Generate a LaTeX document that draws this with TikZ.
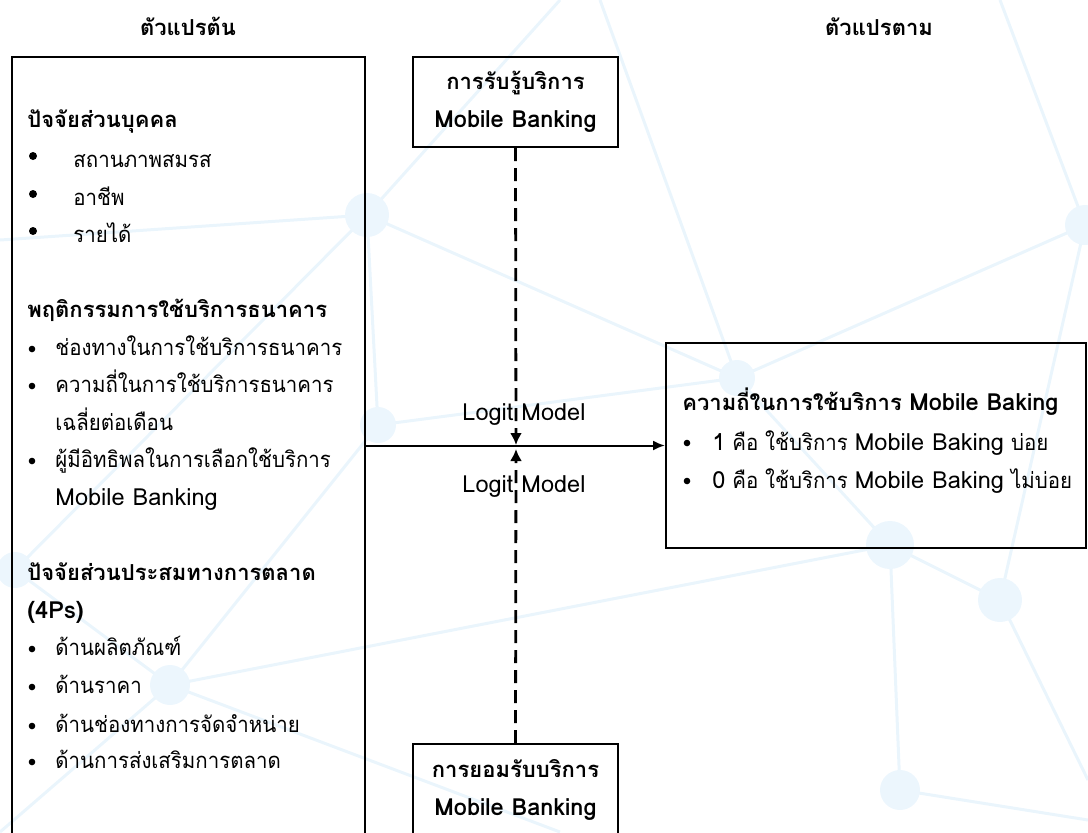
\documentclass[tikz,border=0pt]{standalone}
\usepackage{fontspec}
\setmainfont[Script=Thai,FakeStretch=0.93,BoldFeatures={FakeStretch=1}]{Loma}
\newfontfamily\latinfont[Scale=1.07]{Loma}
\newcommand\eng[1]{{\latinfont #1}}
\usepackage{xcolor}
\usetikzlibrary{arrows.meta,positioning}
\definecolor{netline}{RGB}{234,245,252}
\definecolor{netdot}{RGB}{236,246,253}
\tikzset{
  box/.style={draw,line width=1pt,inner sep=0pt},
  head/.style={anchor=base west,inner sep=0pt,font=\fontsize{11}{18.75}\selectfont\bfseries},
  item/.style={anchor=base west,inner sep=0pt},
  dot/.style={circle,fill,inner sep=0pt,minimum size=3.3pt},
  bigdot/.style={circle,fill,inner sep=0pt,minimum size=4pt},
  net/.style={netline,line width=1.5pt},
  netnode/.style={fill=netdot}
}
\begin{document}
\begin{tikzpicture}[x=0.5pt,y=-0.5pt,every node/.style={font=\fontsize{11}{18.75}\selectfont}]
\useasboundingbox (0,0) rectangle (1088,832);
% faint network in the background
\draw[net] (0,240) -- (367,215) -- (560,0);
\draw[net] (15,570) -- (170,685) -- (378,425) -- (367,215) -- (737,378) -- (1085,225) -- (1000,600) -- (890,545) -- (737,378) -- (378,425);
\draw[net] (170,685) -- (890,545) -- (900,790) -- (1088,820);
\draw[net] (0,832) -- (170,685) -- (560,832);
\draw[net] (1000,600) -- (1088,780);
\draw[net] (737,378) -- (600,0);
\draw[net] (1085,225) -- (1000,0);
\draw[net] (15,570) -- (367,215);
\fill[netnode] (170,685) circle (10pt);
\fill[netnode] (367,215) circle (11pt);
\fill[netnode] (378,425) circle (9pt);
\fill[netnode] (737,378) circle (9pt);
\fill[netnode] (890,545) circle (12pt);
\fill[netnode] (1000,600) circle (11pt);
\fill[netnode] (1085,225) circle (10pt);
\fill[netnode] (15,570) circle (9pt);
\fill[netnode] (900,790) circle (10pt);

% column titles
\node[font=\fontsize{11}{18.75}\selectfont\bfseries,anchor=base] (indeptitle) at (188,35) {ตัวแปรต้น};
\node[font=\fontsize{11}{18.75}\selectfont\bfseries,anchor=base] (deptitle) at (879,35) {ตัวแปรตาม};

% boxes
\node[box,minimum width=176.5pt,minimum height=425pt] (indep) at (188.5,482) {};
\node[box,minimum width=210pt,minimum height=102.5pt] (dep) at (876,445.5) {};
\node[box,minimum width=102.5pt,minimum height=45pt,align=center,font=\fontsize{11}{18.75}\selectfont\bfseries] (perc) at (515.5,102) {การรับรู้บริการ\\\eng{Mobile Banking}};
\node[box,minimum width=102.5pt,minimum height=46pt,align=center,font=\fontsize{11}{18.75}\selectfont\bfseries] (accept) at (515.5,790) {การยอมรับบริการ\\\eng{Mobile Banking}};

% left box text
\node[head] (pers) at (27,127) {ปัจจัยส่วนบุคคล};
\node[bigdot] (b1) at (33,156) {};
\node[item] (marital) at (73,167) {สถานภาพสมรส};
\node[bigdot] (b2) at (33,194) {};
\node[item] (job) at (73,205) {อาชีพ};
\node[bigdot] (b3) at (33,231) {};
\node[item] (income) at (73,242) {รายได้};

\node[head] (behav) at (27,317) {พฤติกรรมการใช้บริการธนาคาร};
\node[dot] (b4) at (32,349) {};
\node[item] (channel) at (55,355) {ช่องทางในการใช้บริการธนาคาร};
\node[dot] (b5) at (32,386) {};
\node[item] (freq) at (55,392) {ความถี่ในการใช้บริการธนาคาร};
\node[item] (freqb) at (55,430) {เฉลี่ยต่อเดือน};
\node[dot] (b6) at (32,461) {};
\node[item] (infl) at (55,467) {ผู้มีอิทธิพลในการเลือกใช้บริการ};
\node[item] (inflb) at (55,505) {\eng{Mobile Banking}};

\node[head] (mix) at (27,580) {ปัจจัยส่วนประสมทางการตลาด};
\node[head] (mixb) at (27,618) {\eng{(4Ps)}};
\node[dot] (b7) at (32,649) {};
\node[item] (prod) at (55,655) {ด้านผลิตภัณฑ์};
\node[dot] (b8) at (32,687) {};
\node[item] (price) at (55,693) {ด้านราคา};
\node[dot] (b9) at (32,726) {};
\node[item] (place) at (55,732) {ด้านช่องทางการจัดจำหน่าย};
\node[dot] (b10) at (32,762) {};
\node[item] (promo) at (55,768) {ด้านการส่งเสริมการตลาด};

% right box text
\node[head] (usage) at (682,410) {ความถี่ในการใช้บริการ \eng{Mobile Baking}};
\node[dot] (b11) at (687,443) {};
\node[item] (often) at (712,450) {\eng{1} คือ ใช้บริการ \eng{Mobile Baking} บ่อย};
\node[dot] (b12) at (687,481) {};
\node[item] (seldom) at (712,488) {\eng{0} คือ ใช้บริการ \eng{Mobile Baking} ไม่บ่อย};

% connectors
\coordinate (hitA) at (516,445);
\coordinate (hitB) at (516,449);
\draw[line width=1pt,-{Latex[length=6pt,width=5pt]}] (indep.east |- dep.west) -- (dep.west);
\draw[line width=1.4pt,dash pattern=on 6.5pt off 3.5pt,-{Latex[length=6pt,width=6pt]}] (perc.south) -- (hitA);
\draw[line width=1.4pt,dash pattern=on 6.5pt off 3.5pt,-{Latex[length=6pt,width=6pt]}] (accept.north) -- (hitB);
\node[anchor=base] (logitA) at (524,420) {\eng{Logit Model}};
\node[anchor=base] (logitB) at (524,492) {\eng{Logit Model}};
\end{tikzpicture}
\end{document}
